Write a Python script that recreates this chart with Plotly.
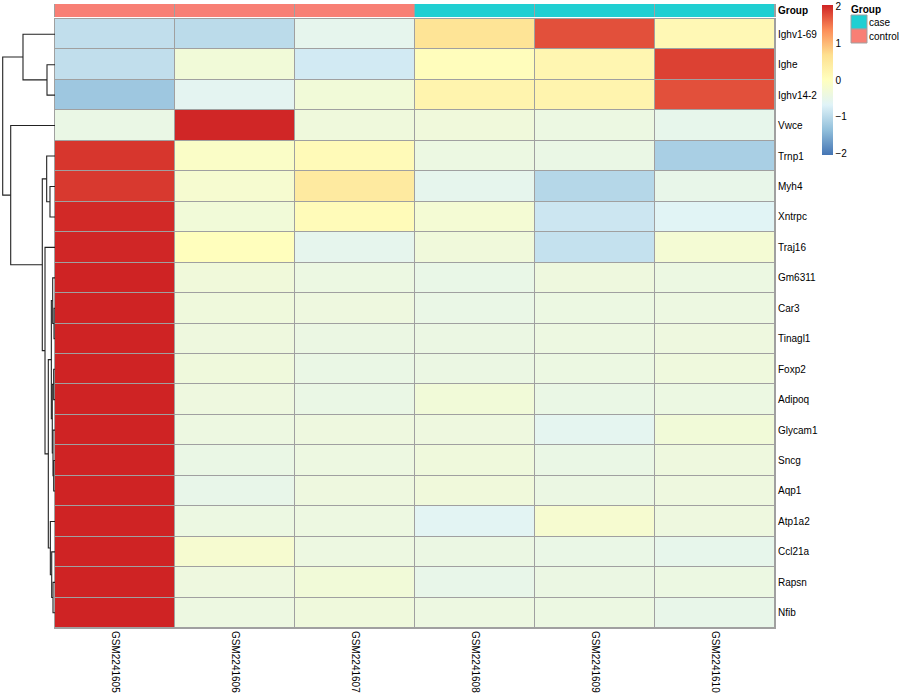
import plotly.graph_objects as go

# ---------------- data ----------------
samples = ["GSM2241605", "GSM2241606", "GSM2241607", "GSM2241608", "GSM2241609", "GSM2241610"]
groups = ["control", "control", "control", "case", "case", "case"]
group_levels = ["case", "control"]
group_colors = {"case": "#1FCFD2", "control": "#F87F75"}

genes = ["Ighv1-69", "Ighe", "Ighv14-2", "Vwce", "Trnp1", "Myh4", "Xntrpc", "Traj16",
         "Gm6311", "Car3", "Tinagl1", "Foxp2", "Adipoq", "Glycam1", "Sncg", "Aqp1",
         "Atp1a2", "Ccl21a", "Rapsn", "Nfib"]

# row-scaled expression (z-scores), rows follow `genes`, columns follow `samples`
values = [
    [-0.95, -1.00, -0.55, 0.60, 1.75, 0.15],
    [-0.95, -0.30, -0.80, 0.05, 0.20, 1.85],
    [-1.25, -0.60, -0.30, 0.25, 0.25, 1.75],
    [-0.45, 2.02, -0.35, -0.33, -0.42, -0.52],
    [1.92, -0.10, 0.10, -0.42, -0.45, -1.15],
    [1.90, -0.20, 0.45, -0.55, -1.05, -0.50],
    [2.00, -0.30, 0.08, -0.25, -0.85, -0.65],
    [2.02, 0.03, -0.55, -0.33, -0.92, -0.25],
    [2.04, -0.32, -0.42, -0.48, -0.37, -0.42],
    [2.04, -0.35, -0.38, -0.47, -0.42, -0.40],
    [2.04, -0.37, -0.43, -0.43, -0.40, -0.38],
    [2.04, -0.35, -0.45, -0.43, -0.42, -0.36],
    [2.04, -0.38, -0.45, -0.30, -0.45, -0.42],
    [2.04, -0.40, -0.38, -0.38, -0.58, -0.30],
    [2.04, -0.45, -0.40, -0.35, -0.45, -0.37],
    [2.04, -0.50, -0.38, -0.33, -0.43, -0.38],
    [2.04, -0.42, -0.40, -0.62, -0.20, -0.38],
    [2.04, -0.20, -0.40, -0.43, -0.47, -0.52],
    [2.04, -0.38, -0.30, -0.50, -0.43, -0.42],
    [2.04, -0.40, -0.35, -0.40, -0.42, -0.50],
]

# hierarchical clustering of rows: (child_a, child_b, height); ids >= 20 are earlier merges
row_merges = [
    (9, 10, 0.19), (14, 15, 0.25), (11, 12, 0.25), (18, 19, 0.38),
    (13, 21, 0.38), (8, 20, 0.44), (22, 24, 0.52), (17, 23, 0.63),
    (25, 26, 0.70), (16, 27, 0.89), (5, 6, 0.96), (28, 29, 1.28),
    (1, 2, 1.53), (4, 30, 1.59), (7, 31, 1.91), (33, 34, 2.43),
    (0, 32, 6.12), (3, 35, 8.47), (36, 37, 10.0),
]

zlim = 2.04
palette = ["#4575B4", "#91BFDB", "#E0F3F8", "#FFFFBF", "#FEE090", "#FC8D59", "#CF2324"]

# ---------------- layout geometry (pixels) ----------------
W, H = 900, 700
hm_l, hm_r, hm_t, hm_b = 55, 775, 19, 628
an_t, an_b = 4, 17
FONT = "Liberation Sans, Arial, Helvetica, sans-serif"
grid = "#A0A0A0"


def px(x):
    return x / W


def py(y):
    return 1 - y / H


fig = go.Figure()

cs = [[i / (len(palette) - 1), c] for i, c in enumerate(palette)]
fig.add_trace(go.Heatmap(
    z=values, x=list(range(len(samples))), y=list(range(len(genes))),
    colorscale=cs, zmin=-zlim, zmax=zlim, xgap=1, ygap=1,
    hoverinfo="skip",
    colorbar=dict(
        x=px(822), xanchor="left", y=py(5), yanchor="top",
        lenmode="pixels", len=150, thickness=11, thicknessmode="pixels",
        outlinewidth=0, xpad=0, ypad=0, ticks="",
        tickvals=[-2, -1, 0, 1, 2], tickfont=dict(size=10, family=FONT, color="black"),
    ),
))

# annotation bar
grp_code = [[group_levels.index(g) for g in groups]]
fig.add_trace(go.Heatmap(
    z=grp_code, x=list(range(len(samples))), y=[0], xaxis="x", yaxis="y2",
    colorscale=[[0, group_colors["case"]], [0.5, group_colors["case"]],
                [0.5, group_colors["control"]], [1, group_colors["control"]]],
    zmin=0, zmax=1, showscale=False, xgap=1, hoverinfo="skip",
))

# dendrogram from merges
n = len(genes)
pos = {i: (float(i), 0.0) for i in range(n)}
for k, (a, b, h) in enumerate(row_merges):
    ya, ha = pos[a]
    yb, hb = pos[b]
    fig.add_trace(go.Scatter(
        x=[ha, h, h, hb], y=[ya, ya, yb, yb], mode="lines",
        line=dict(color="#222222", width=1.1), xaxis="x3", yaxis="y",
        hoverinfo="skip", showlegend=False,
    ))
    pos[n + k] = ((ya + yb) / 2, h)

root_h = row_merges[-1][2]
left_h = root_h * hm_l / (hm_l - 2.7)

fig.update_layout(
    width=W, height=H, margin=dict(l=0, r=0, t=0, b=0, autoexpand=False),
    paper_bgcolor="white", plot_bgcolor="white", showlegend=False,
    font=dict(family=FONT, size=10, color="black"),
    xaxis=dict(domain=[px(hm_l), px(hm_r)], range=[-0.5, len(samples) - 0.5],
               tickvals=list(range(len(samples))), ticktext=samples, tickangle=90,
               ticks="", showgrid=False, zeroline=False, anchor="y",
               showline=True, mirror=True, linecolor=grid, linewidth=1,
               tickfont=dict(size=10, family=FONT)),
    yaxis=dict(domain=[py(hm_b), py(hm_t)], range=[n - 0.5, -0.5],
               tickvals=list(range(n)), ticktext=genes, side="right",
               ticks="", showgrid=False, zeroline=False, anchor="x",
               showline=True, mirror=True, linecolor=grid, linewidth=1,
               tickfont=dict(size=10, family=FONT)),
    yaxis2=dict(domain=[py(an_b), py(an_t)], range=[-0.5, 0.5],
                tickvals=[0], ticktext=["<b>Group</b>"], side="right",
                ticks="", showgrid=False, zeroline=False, anchor="x",
                showline=True, mirror=True, linecolor=grid, linewidth=1,
                tickfont=dict(size=10, family=FONT)),
    xaxis3=dict(domain=[0, px(hm_l)], range=[left_h, 0], visible=False,
                anchor="y", showgrid=False, zeroline=False),
)

# grey cell borders shown through the heatmap gaps
shapes = [
    dict(type="rect", xref="x", yref="y", x0=-0.5, x1=len(samples) - 0.5,
         y0=-0.5, y1=n - 0.5, fillcolor=grid, line=dict(width=0), layer="below"),
    dict(type="rect", xref="x", yref="y2", x0=-0.5, x1=len(samples) - 0.5,
         y0=-0.5, y1=0.5, fillcolor=grid, line=dict(width=0), layer="below"),
]

# group legend
annos = [dict(x=px(849), y=py(10), xref="paper", yref="paper", text="<b>Group</b>",
              showarrow=False, xanchor="left", yanchor="middle",
              font=dict(size=10, family=FONT))]
box_t = 15
for lv in group_levels:
    shapes.append(dict(type="rect", xref="paper", yref="paper",
                       x0=px(851), x1=px(867), y0=py(box_t + 14), y1=py(box_t),
                       fillcolor=group_colors[lv], line=dict(color=grid, width=1)))
    annos.append(dict(x=px(866.5), y=py(box_t + 7.5), xref="paper", yref="paper", text=lv,
                      showarrow=False, xanchor="left", yanchor="middle",
                      font=dict(size=10, family=FONT)))
    box_t += 14
fig.update_layout(shapes=shapes, annotations=annos)

fig.write_html("out.html", config={"displayModeBar": False},
               post_script="document.body.style.margin='0';")
